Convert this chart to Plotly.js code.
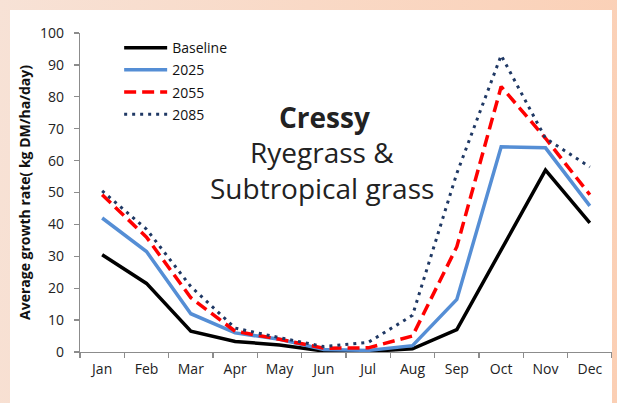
<!DOCTYPE html>
<html>
<head>
<meta charset="utf-8">
<script src="https://cdn.plot.ly/plotly-3.0.1.min.js"></script>
<style>
html,body{margin:0;padding:0;}
#wrap{position:relative;width:617px;height:403px;overflow:hidden;
 background:linear-gradient(100deg,#f7e2d6 0%,#f9d9c6 45%,#fbcfb4 100%);}
#chart{position:absolute;left:10px;top:10px;width:602px;height:393px;background:#ffffff;}
</style>
</head>
<body>
<div id="wrap"><div id="chart"></div></div>
<script>
const months = ["Jan","Feb","Mar","Apr","May","Jun","Jul","Aug","Sep","Oct","Nov","Dec"];
const baseline = [30.5,21.5,6.5,3.3,2.2,0.3,0.2,1.0,7.0,32.0,57.0,40.5];
const y2025 = [42.0,31.5,12.0,6.0,4.0,0.8,0.5,2.0,16.5,64.3,64.0,45.8];
const y2055 = [49.3,36.0,17.0,6.5,4.0,1.2,1.3,5.0,33.0,83.2,67.0,49.3];
const y2085 = [50.5,38.5,20.5,7.5,4.5,1.7,3.0,11.5,56.0,93.0,67.0,58.0];
const seriesNames = ["Baseline","2025","2055","2085"];
const yTicks = [0,10,20,30,40,50,60,70,80,90,100];

const traces = [
 {x:months,y:baseline,name:seriesNames[0],mode:"lines",line:{color:"#000000",width:3.5}},
 {x:months,y:y2025,name:seriesNames[1],mode:"lines",line:{color:"#558ed5",width:3.5}},
 {x:months,y:y2055,name:seriesNames[2],mode:"lines",line:{color:"#ff0000",width:3.5,dash:"12px,6px"}},
 {x:months,y:y2085,name:seriesNames[3],mode:"lines",line:{color:"#1f3864",width:3,dash:"3px,5px"}}
];
traces.forEach((t,i)=>{t.legendgroup="g"+i;});

const font = "'Open Sans', 'DejaVu Sans', sans-serif";
const layout = {
 width:602,height:393,
 margin:{l:70,r:0,t:23,b:51,pad:0},
 paper_bgcolor:"rgba(0,0,0,0)",plot_bgcolor:"rgba(0,0,0,0)",
 font:{family:font,size:14,color:"#222222"},
 showlegend:true,
 legend:{x:0.0736,y:1.003,xanchor:"left",yanchor:"top",bgcolor:"rgba(0,0,0,0)",
   font:{family:font,size:14,color:"#111111"},traceorder:"grouped",tracegroupgap:1,itemwidth:43},
 xaxis:{type:"category",range:[-0.5,11.5],showgrid:false,zeroline:false,
   showline:true,linecolor:"#8c8c8c",linewidth:1.3,ticks:"outside",tickson:"boundaries",
   ticklen:5,tickcolor:"#8c8c8c",tickwidth:1.3,ticklabelstandoff:4,
   tickfont:{family:font,size:14,color:"#222222"},fixedrange:true},
 yaxis:{range:[0,100],tickvals:yTicks,showgrid:false,zeroline:false,
   showline:true,linecolor:"#8c8c8c",linewidth:1.3,ticks:"outside",ticklen:5,
   tickcolor:"#8c8c8c",tickwidth:1.3,ticklabelstandoff:7,
   tickfont:{family:font,size:14,color:"#222222"},
   title:{text:"<b>Average growth rate( kg DM/ha/day)</b>",font:{family:font,size:14,color:"#111111"},standoff:6},
   fixedrange:true},
 annotations:[
  {xref:"paper",yref:"paper",x:0.46,y:0.737,xanchor:"center",yanchor:"middle",text:"<b>Cressy</b>",showarrow:false,
   font:{family:font,size:28,color:"#222222"}},
  {xref:"paper",yref:"paper",x:0.455,y:0.627,xanchor:"center",yanchor:"middle",text:"Ryegrass &amp;",showarrow:false,
   font:{family:font,size:28,color:"#222222"}},
  {xref:"paper",yref:"paper",x:0.455,y:0.514,xanchor:"center",yanchor:"middle",text:"Subtropical grass",showarrow:false,
   font:{family:font,size:28,color:"#222222"}}
 ]
};
Plotly.newPlot("chart",traces,layout,{displayModeBar:false,staticPlot:true});
</script>
</body>
</html>
